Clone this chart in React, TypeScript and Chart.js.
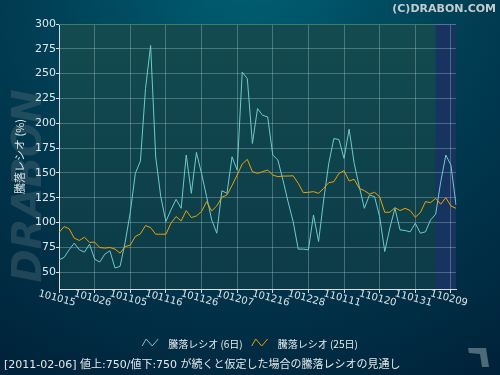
import React, { useEffect, useRef } from 'react';
import { Chart, registerables } from 'chart.js';

Chart.register(...registerables);

// ---- data ----
const dates = [
  '101015','101018','101019','101020','101021','101022','101025','101026','101027','101028','101029',
  '101101','101102','101104','101105','101108','101109','101110','101111','101112','101115','101116',
  '101117','101118','101119','101122','101124','101125','101126','101129','101130',
  '101201','101202','101203','101206','101207','101208','101209','101210','101213','101214','101215',
  '101216','101217','101220','101221','101222','101224','101227','101228','101229','101230',
  '110104','110105','110106','110107','110111','110112','110113','110114','110117','110118','110119',
  '110120','110121','110124','110125','110126','110127','110128','110131',
  '110201','110202','110203','110204','110207','110208','110209','110210'
];

const tickDates = ['101015','101026','101105','101116','101126','101207','101216','101228','110111','110120','110131','110209'];

const yTicks = [50, 75, 100, 125, 150, 175, 200, 225, 250, 275, 300];

const ratio6 = [
  62.4, 64.8, 72.5, 79.2, 72.5, 70.2, 78.2, 63.1, 60.1, 68.1,
  71.5, 54.1, 55.8, 80.0, 110.0, 149.5, 162.0, 235.0, 278.4, 166.0,
  126.0, 101.0, 112.7, 123.4, 114.3, 168.0, 129.4, 170.6, 149.5, 126.0,
  102.6, 89.2, 132.0, 129.4, 166.2, 152.8, 251.6, 244.9, 179.6, 214.8,
  208.0, 206.4, 168.0, 163.0, 142.8, 121.0, 101.0, 73.2, 73.2, 72.5,
  107.6, 80.9, 122.7, 159.5, 184.6, 183.6, 164.6, 194.0, 159.5, 136.1,
  114.3, 127.7, 126.0, 106.0, 70.8, 94.3, 114.3, 92.6, 91.9, 90.6,
  99.3, 89.2, 90.6, 102.6, 108.3, 141.0, 167.9, 157.9, 117.7
];

const ratio25 = [
  89.9, 95.9, 93.6, 84.2, 81.9, 85.2, 79.9, 80.2, 74.8, 74.2,
  74.8, 73.2, 69.1, 75.8, 77.2, 85.9, 88.6, 96.9, 94.9, 88.2,
  88.2, 88.2, 99.3, 106.0, 101.6, 112.0, 105.0, 106.6, 111.0, 121.0,
  111.7, 116.7, 125.4, 127.7, 137.4, 147.8, 158.9, 163.6, 151.2, 149.5,
  151.2, 152.8, 147.8, 146.2, 146.8, 146.8, 147.1, 139.5, 130.1, 130.4,
  131.1, 129.4, 134.4, 140.1, 141.1, 149.5, 152.2, 141.8, 143.5, 134.4,
  132.1, 128.7, 130.4, 126.0, 110.3, 110.3, 115.0, 112.0, 114.3, 112.0,
  105.3, 110.0, 121.0, 120.0, 124.4, 118.4, 125.0, 116.7, 114.3
];

const seriesLabels = ['騰落レシオ (6日)', '騰落レシオ (25日)'];
const seriesColors = ['#70cacb', '#eca200'];
const forecastStart = '110204';
const yMin = 33;
const yMax = 300;
const yTitle = '騰落レシオ (%)';
const footnote = '[2011-02-06] 値上:750/値下:750 が続くと仮定した場合の騰落レシオの見通し';
const copyright = '(C)DRABON.COM';
const watermark = 'DRABON';

const CJK = '"Noto Sans CJK JP", "DejaVu Sans", sans-serif';
const SANS = '"DejaVu Sans", sans-serif';
const MIXED = '"DejaVu Sans", "Noto Sans CJK JP", sans-serif';

const decor = {
  id: 'decor',
  beforeDraw(chart: any) {
    const { ctx, chartArea: a, width, height } = chart;
    ctx.save();
    const g = ctx.createRadialGradient(250, -30, 10, 250, -30, 470);
    g.addColorStop(0, '#005f73');
    g.addColorStop(0.45, '#003f55');
    g.addColorStop(1, '#00223a');
    ctx.fillStyle = g;
    ctx.fillRect(0, 0, width, height);

    // watermark
    ctx.translate(31, 186);
    ctx.rotate(-Math.PI / 2);
    ctx.font = 'italic bold 40px "DejaVu Sans"';
    ctx.fillStyle = 'rgba(72,102,114,0.45)';
    ctx.textAlign = 'center';
    ctx.textBaseline = 'middle';
    ctx.fillText(watermark, 0, 0);
    ctx.restore();

    ctx.save();
    const pg = ctx.createLinearGradient(0, a.top, 0, a.bottom);
    pg.addColorStop(0, '#134b50');
    pg.addColorStop(1, '#0b3b48');
    ctx.fillStyle = pg;
    ctx.fillRect(a.left, a.top, a.right - a.left, a.bottom - a.top);
    const xs = chart.scales.x;
    const bx = xs.getPixelForValue(dates.indexOf(forecastStart));
    ctx.fillStyle = '#16345f';
    ctx.fillRect(bx, a.top, a.right - bx, a.bottom - a.top);
    ctx.restore();
  },
  beforeDatasetsDraw(chart: any) {
    const { ctx, chartArea: a } = chart;
    const bx = chart.scales.x.getPixelForValue(dates.indexOf(forecastStart));
    ctx.save();
    ctx.lineWidth = 1;
    ctx.strokeStyle = '#3f7d5c';
    ctx.beginPath();
    ctx.moveTo(a.left, a.top + 0.5);
    ctx.lineTo(bx, a.top + 0.5);
    ctx.stroke();
    ctx.strokeStyle = '#5a6f99';
    ctx.beginPath();
    ctx.moveTo(bx, a.top + 0.5);
    ctx.lineTo(a.right, a.top + 0.5);
    ctx.stroke();
    ctx.restore();
  },
  afterDraw(chart: any) {
    const { ctx } = chart;
    const xs = chart.scales.x;
    ctx.save();
    // x tick labels (rotated clockwise)
    ctx.font = '10px ' + SANS;
    ctx.fillStyle = '#dde4e6';
    ctx.textAlign = 'center';
    ctx.textBaseline = 'middle';
    tickDates.forEach((d) => {
      const x = xs.getPixelForValue(dates.indexOf(d));
      ctx.save();
      ctx.translate(x - 2, 298.5);
      ctx.rotate((15 * Math.PI) / 180);
      ctx.fillText(d, 0, 0);
      ctx.restore();
    });

    // legend
    ctx.font = '10px ' + CJK;
    ctx.textAlign = 'left';
    const ds = chart.data.datasets;
    const iconW = 16, gapIcon = 10, gapItem = 9;
    const widths = ds.map((d: any) => ctx.measureText(d.label).width);
    const total = widths.reduce((s: number, w: number) => s + iconW + gapIcon + w, 0) + gapItem * (ds.length - 1);
    let lx = 250 - total / 2;
    const ly = 344;
    ds.forEach((d: any, i: number) => {
      ctx.strokeStyle = d.borderColor;
      ctx.lineWidth = 1;
      ctx.beginPath();
      ctx.moveTo(lx, ly + 2);
      ctx.lineTo(lx + 4, ly - 5);
      ctx.lineTo(lx + 10, ly + 2);
      ctx.lineTo(lx + 16, ly - 5);
      ctx.stroke();
      ctx.fillStyle = '#e8ecee';
      ctx.fillText(d.label, lx + iconW + gapIcon, ly);
      lx += iconW + gapIcon + widths[i] + gapItem;
    });

    // footnote
    ctx.font = '11px ' + MIXED;
    ctx.fillStyle = '#e4e8ea';
    ctx.textAlign = 'left';
    ctx.fillText(footnote, 4, 365);

    // copyright
    ctx.font = 'bold 11px ' + SANS;
    ctx.fillStyle = '#c4ccd0';
    ctx.textAlign = 'right';
    ctx.fillText(copyright, 496, 9);

    // corner mark
    ctx.fillStyle = '#4e6a78';
    ctx.beginPath();
    ctx.moveTo(468, 348);
    ctx.lineTo(486, 348);
    ctx.lineTo(489, 367);
    ctx.lineTo(482, 367);
    ctx.lineTo(480, 354);
    ctx.lineTo(469, 353);
    ctx.closePath();
    ctx.fill();
    ctx.restore();
  },
};

export default function App() {
  const ref = useRef<HTMLCanvasElement | null>(null);

  useEffect(() => {
    document.body.style.margin = '0';
    const canvas = ref.current;
    if (!canvas) return;
    const gridColor = 'rgba(190,215,215,0.32)';
    const axisColor = '#d8dcdc';
    const chart = new Chart(canvas, {
      type: 'line',
      data: {
        labels: dates,
        datasets: [
          { label: seriesLabels[0], data: ratio6, borderColor: seriesColors[0], borderWidth: 1, pointRadius: 0, tension: 0, fill: false, order: 2 },
          { label: seriesLabels[1], data: ratio25, borderColor: seriesColors[1], borderWidth: 1, pointRadius: 0, tension: 0, fill: false, order: 1 },
        ],
      },
      options: {
        responsive: false,
        animation: false,
        devicePixelRatio: 1,
        layout: { padding: { top: 24, right: 44, left: 0, bottom: 0 } },
        plugins: { legend: { display: false }, tooltip: { enabled: false }, title: { display: false } },
        scales: {
          x: {
            type: 'category',
            offset: false,
            afterBuildTicks: (s: any) => { s.ticks = tickDates.map((d) => ({ value: dates.indexOf(d) })); },
            afterFit: (s: any) => { s.height = 86; },
            grid: { color: gridColor, tickColor: axisColor, tickLength: 4, offset: false },
            border: { display: true, color: axisColor, width: 1 },
            ticks: { display: false },
          },
          y: {
            min: yMin,
            max: yMax,
            afterBuildTicks: (s: any) => { s.ticks = yTicks.map((v) => ({ value: v })); },
            afterFit: (s: any) => { s.width = 59; },
            grid: { color: gridColor, tickColor: axisColor, tickLength: 3 },
            border: { display: true, color: axisColor, width: 1 },
            ticks: { color: '#e2e6e8', font: { family: SANS, size: 11 }, padding: 0 },
            title: { display: true, text: yTitle, color: '#e0e4e6', font: { family: CJK, size: 11 }, padding: { top: 13, bottom: 0 } },
          },
        },
      },
      plugins: [decor],
    } as any);
    return () => chart.destroy();
  }, []);

  return (
    <div style={{ width: 500, height: 375 }}>
      <canvas ref={ref} width={500} height={375} style={{ display: 'block' }} />
    </div>
  );
}
